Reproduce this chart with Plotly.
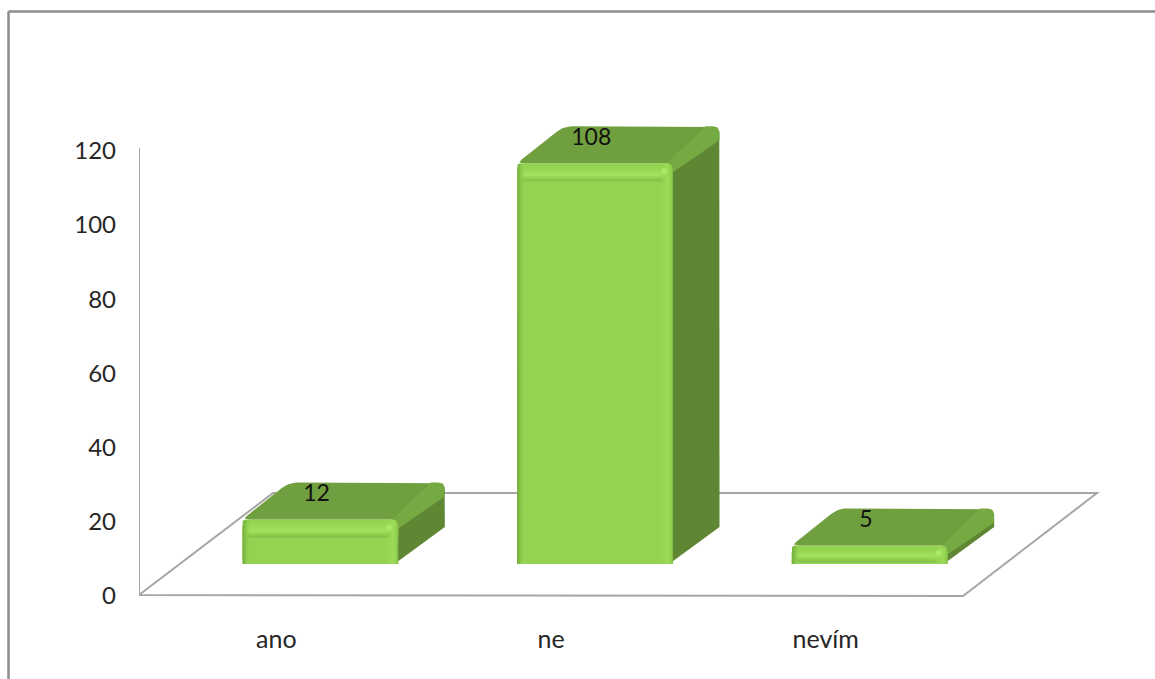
import math
import plotly.graph_objects as go

# Survey answers shown as pseudo-3D columns
categories = ["ano", "ne", "nevím"]
values = [12, 108, 5]
y_ticks = [0, 20, 40, 60, 80, 100, 120]

# Plot scale: pixels per category and per value unit
WIDTH, HEIGHT = 1155, 679
M_L, M_T, M_B = 139, 0, 57
SX = 274.67
SY = 3.71
ZERO_PX = 596
X_RANGE = [-0.5, -0.5 + (WIDTH - M_L) / SX]
Y_RANGE = [(ZERO_PX - (HEIGHT - M_B)) / SY, (ZERO_PX - M_T) / SY]

# Oblique projection and column proportions, in axis units
FLOOR_DX, FLOOR_DY = 134 / SX, 103 / SY
FLOOR_Y = 1 / SY
DEPTH_DX, DEPTH_DY = 46.5 / SX, 37 / SY
LIFT = 32 / SY
SHIFT = 44 / SX
HALF_W = 78 / SX

GREY = "#a6a6a6"
FRONT = "#92d350"
TOP = "#6f9f3e"
SIDE = "#5f8633"
BEVEL = "#75a942"
CLEAR = "rgba(146,211,80,0)"
FONT = "Lato, sans-serif"


def rounded(points, radii, steps=6):
    """Outline through the points, with each corner rounded by its radius in pixels."""
    pts = [(x * SX, y * SY) for x, y in points]
    out = []
    n = len(pts)
    for i, (px, py) in enumerate(pts):
        r = radii[i]
        if r <= 0:
            out.append((px, py))
            continue
        ax, ay = pts[i - 1]
        bx, by = pts[(i + 1) % n]
        la, lb = math.hypot(ax - px, ay - py), math.hypot(bx - px, by - py)
        r = min(r, la / 2, lb / 2)
        s = (px + (ax - px) * r / la, py + (ay - py) * r / la)
        e = (px + (bx - px) * r / lb, py + (by - py) * r / lb)
        for k in range(steps + 1):
            t = k / steps
            out.append((
                (1 - t) ** 2 * s[0] + 2 * t * (1 - t) * px + t * t * e[0],
                (1 - t) ** 2 * s[1] + 2 * t * (1 - t) * py + t * t * e[1],
            ))
    out.append(out[0])
    return [p[0] / SX for p in out], [p[1] / SY for p in out]


def face(points, radii, color=None, gradient=None):
    xs, ys = rounded(points, radii)
    kw = dict(fillgradient=gradient) if gradient else dict(fillcolor=color)
    return go.Scatter(x=xs, y=ys, mode="lines", fill="toself", line=dict(width=0),
                      hoverinfo="skip", showlegend=False, cliponaxis=False, **kw)


def ramp(kind, *stops):
    return dict(type=kind, colorscale=[[p, c] for p, c in stops])


fig = go.Figure()

# Side and top faces of each column
for i, v in enumerate(values):
    L, R = i + SHIFT - HALF_W, i + SHIFT + HALF_W
    bottom, top = LIFT, LIFT + v
    dx, dy = DEPTH_DX, DEPTH_DY
    fig.add_trace(face([(R - 4 / SX, bottom), (R + dx, bottom + dy), (R + dx, top + dy),
                        (R, top)], [3, 0, 9, 0], SIDE))
    fig.add_trace(face([(L, top), (L + dx, top + dy), (R + dx, top + dy), (R, top)],
                       [6, 9, 10, 6], TOP))
    # Rounded edge between the top and the side
    fig.add_trace(face([(R - 6 / SX, top), (R + dx - 14 / SX, top + dy), (R + dx, top + dy),
                        (R + dx, top + dy - 14 / SY), (R, top - 9 / SY)],
                       [0, 0, 10, 0, 0], BEVEL))

# Front faces
fig.add_trace(go.Bar(
    x=[i + SHIFT for i in range(len(values))], y=values, base=LIFT,
    width=2 * HALF_W, marker=dict(color=FRONT, cornerradius=8, line=dict(width=0)),
    hoverinfo="skip", showlegend=False))

# Bevel shading on the front faces
for i, v in enumerate(values):
    L, R = i + SHIFT - HALF_W, i + SHIFT + HALF_W
    bottom, top = LIFT, LIFT + v
    band = min(18, v * SY * 0.9) / SY
    fig.add_trace(face([(L, top - band), (L, top), (R, top), (R, top - band)], [0, 8, 8, 0],
                       gradient=ramp("vertical", (0, "#80bd46"), (0.14, "#8ecd4d"),
                                     (0.38, "#a3e35f"), (0.6, "#9ad956"), (1, CLEAR))))
    fig.add_trace(face([(L, bottom), (L, top), (L + 8 / SX, top), (L + 8 / SX, bottom)],
                       [0, 8, 0, 0],
                       gradient=ramp("horizontal", (0, "#74ab3b"), (0.45, "#88c64a"), (1, CLEAR))))
    fig.add_trace(face([(R - 14 / SX, bottom), (R - 14 / SX, top), (R, top), (R, bottom)],
                       [0, 0, 8, 0],
                       gradient=ramp("horizontal", (0, CLEAR), (0.6, "#9bdb58"), (0.85, "#93d351"),
                                     (1, "#7fb843"))))

# Highlight where the front bevels meet
fig.add_trace(go.Scatter(
    x=[i + SHIFT + HALF_W - 9 / SX for i in range(len(values))],
    y=[LIFT + v - min(8, v * SY * 0.4) / SY for v in values],
    mode="markers", marker=dict(color="#aeec6a", size=6, opacity=0.8, line=dict(width=0)),
    hoverinfo="skip", showlegend=False))

# Value labels resting on the top faces
fig.add_trace(go.Scatter(
    x=[i + SHIFT + DEPTH_DX / 2 - 27 / SX for i in range(len(values))],
    y=[LIFT + v + DEPTH_DY - 12.5 / SY for v in values],
    text=[str(v) for v in values], mode="text", textposition="middle center",
    textfont=dict(family=FONT, size=23, color="#111111"),
    hoverinfo="skip", showlegend=False, cliponaxis=False))

plot_w = WIDTH - M_L
plot_h = HEIGHT - M_T - M_B
frame = dict(color="#8c8c8c", width=2.5)
floor_line = dict(color=GREY, width=2)
left, right = X_RANGE[0], 2.5
fig.update_layout(
    width=WIDTH, height=HEIGHT, autosize=False,
    margin=dict(l=M_L, r=0, t=M_T, b=M_B, pad=0),
    paper_bgcolor="white", plot_bgcolor="white", showlegend=False,
    font=dict(family=FONT, size=24, color="#262626"),
    xaxis=dict(range=X_RANGE, tickvals=list(range(len(categories))), ticktext=categories,
               showgrid=False, zeroline=False, showline=False, ticks="",
               tickfont=dict(family=FONT, size=25, color="#262626")),
    yaxis=dict(range=Y_RANGE, tickvals=y_ticks, showgrid=False, zeroline=False,
               showline=False, ticks="", ticklabelstandoff=22,
               tickfont=dict(family=FONT, size=24, color="#262626")),
    shapes=[
        # Floor outline and value axis line, underneath the columns
        dict(type="path", layer="below", line=floor_line,
             path=f"M {left} {FLOOR_Y} L {right} 0 L {right + FLOOR_DX} {FLOOR_DY} "
                  f"L {left + FLOOR_DX} {FLOOR_DY} Z"),
        dict(type="line", layer="below", line=floor_line,
             x0=left, x1=left, y0=FLOOR_Y, y1=y_ticks[-1] + 3 / SY),
        # Chart frame, open on the right and the bottom
        dict(type="line", xref="paper", yref="paper", line=frame,
             x0=(8.5 - M_L) / plot_w, x1=(WIDTH - M_L) / plot_w,
             y0=1 - (11.5 - M_T) / plot_h, y1=1 - (11.5 - M_T) / plot_h),
        dict(type="line", xref="paper", yref="paper", line=frame,
             x0=(8.5 - M_L) / plot_w, x1=(8.5 - M_L) / plot_w,
             y0=1 - (11.5 - M_T) / plot_h, y1=1 - (HEIGHT - M_T) / plot_h),
    ],
)

fig.write_html("out.html")
